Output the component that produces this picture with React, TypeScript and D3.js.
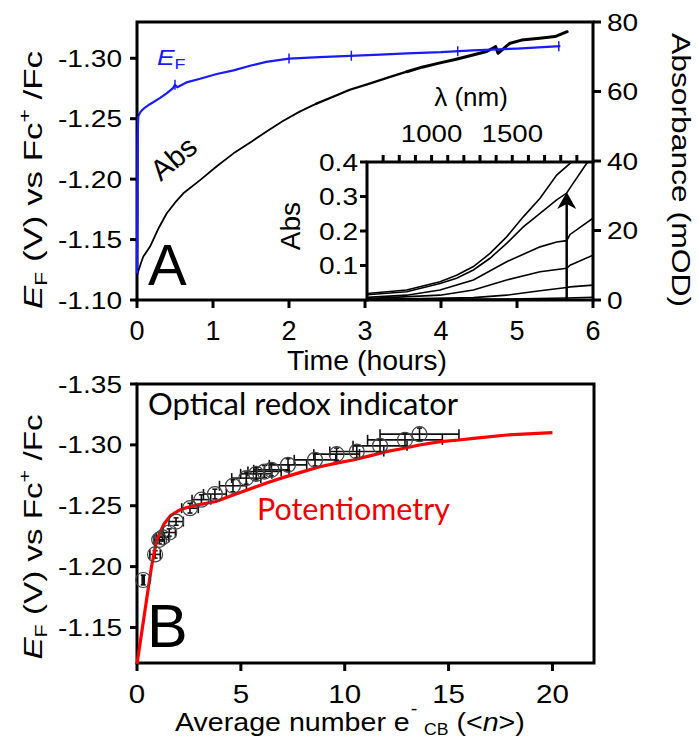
import React from 'react';
import * as d3 from 'd3';

// ---------- Panel A data ----------
const efTime = [0, 0.004, 0.008, 0.015, 0.05, 0.1, 0.17, 0.3, 0.39, 0.47, 0.5, 0.53, 0.65, 0.83, 1.05, 1.27, 1.5, 1.7, 2.0, 2.4, 2.8, 3.2, 3.55, 4.0, 4.42, 5.0, 5.57];
const efVal = [-1.122, -1.19, -1.235, -1.252, -1.256, -1.259, -1.262, -1.267, -1.271, -1.275, -1.278, -1.276, -1.28, -1.283, -1.287, -1.29, -1.294, -1.297, -1.2997, -1.301, -1.302, -1.303, -1.304, -1.305, -1.3066, -1.308, -1.31];
const efMarkTime = [0.5, 2.0, 2.82, 4.22, 5.55];

const absTime = [0, 0.02, 0.05, 0.083, 0.17, 0.28, 0.39, 0.5, 0.61, 0.83, 1.05, 1.27, 1.5, 1.7, 1.92, 2.14, 2.36, 2.58, 2.8, 3.08, 3.3, 3.55, 3.75, 3.96, 4.2, 4.42, 4.6, 4.72, 4.75, 4.9, 5.06, 5.3, 5.5, 5.66];
const absVal = [7, 8.5, 10.5, 12.5, 15.3, 20.5, 24.9, 28, 30.7, 34.5, 38.5, 42.2, 45.5, 48.4, 51.5, 54.2, 56.5, 58.5, 60.5, 62.4, 64, 65.7, 67, 68.1, 69.3, 70.5, 71.5, 72.9, 71, 73.8, 74.8, 75.3, 75.8, 77.2];

const timeTicks = [0, 1, 2, 3, 4, 5, 6];
const efTicksA = [-1.10, -1.15, -1.20, -1.25, -1.30];
const absTicks = [0, 20, 40, 60, 80];

// inset spectra
const spec1L = [600, 846, 1052, 1155, 1259, 1362, 1465, 1568, 1672, 1775, 1858, 1875];
const spec1A = [0.019, 0.029, 0.053, 0.072, 0.097, 0.135, 0.183, 0.241, 0.295, 0.362, 0.396, 0.405];
const spec2L = [600, 846, 1052, 1155, 1259, 1362, 1465, 1568, 1672, 1775, 1837, 1858, 1961, 1980];
const spec2A = [0.015, 0.024, 0.048, 0.063, 0.087, 0.121, 0.164, 0.212, 0.251, 0.29, 0.31, 0.325, 0.396, 0.405];
const spec3L = [600, 846, 1052, 1259, 1465, 1672, 1775, 1837, 1858, 2000];
const spec3A = [0.0077, 0.014, 0.029, 0.058, 0.111, 0.154, 0.168, 0.172, 0.19, 0.237];
const spec4L = [600, 1052, 1259, 1465, 1672, 1837, 1858, 2000];
const spec4A = [0.004, 0.014, 0.029, 0.058, 0.082, 0.092, 0.101, 0.13];
const spec5L = [600, 1259, 1465, 1672, 1837, 1858, 2000];
const spec5A = [0.001, 0.007, 0.014, 0.027, 0.036, 0.038, 0.043];
const spec6L = [600, 1465, 1837, 2000];
const spec6A = [0.002, 0.003, 0.006, 0.008];
const insetAbsTicks = [0.1, 0.2, 0.3, 0.4];
const lambdaTicks = [700, 800, 900, 1000, 1100, 1200, 1300, 1400, 1500, 1600, 1700, 1800, 1900];
const lambdaLabels = [1000, 1500];
const arrowLambda = 1837;
const arrowTop = 0.313;

// ---------- Panel B data ----------
const redN = [0, 0.35, 0.7, 0.95, 1.3, 1.6, 2.0, 2.4, 3.0, 3.8, 4.5, 5.4, 6.2, 7.1, 8.0, 8.8, 9.6, 10.4, 11.2, 12.0, 12.8, 13.6, 14.6, 15.5, 16.2, 17.8, 20.0];
const redE = [-1.12, -1.16, -1.2, -1.222, -1.235, -1.2416, -1.246, -1.2485, -1.251, -1.2535, -1.258, -1.2635, -1.2685, -1.2735, -1.278, -1.282, -1.285, -1.2876, -1.291, -1.2944, -1.297, -1.2999, -1.3026, -1.304, -1.3054, -1.3081, -1.31];

const cN = [0.3, 0.87, 1.07, 1.23, 1.55, 1.88, 2.55, 3.1, 3.75, 4.62, 5.26, 5.74, 6.14, 6.47, 7.27, 8.57, 9.61, 10.58, 11.7, 12.9, 13.6];
const cE = [-1.189, -1.21, -1.222, -1.224, -1.228, -1.237, -1.248, -1.255, -1.2596, -1.2664, -1.2727, -1.2762, -1.2781, -1.2795, -1.2836, -1.2877, -1.2924, -1.2945, -1.2992, -1.3041, -1.3088];
const cXerr = [0.05, 0.25, 0.25, 0.3, 0.3, 0.35, 0.4, 0.45, 0.55, 0.65, 0.7, 0.75, 0.8, 0.85, 0.9, 1.0, 1.1, 1.3, 1.3, 1.8, 1.9];
const cYerr = [0.004, 0.003, 0.003, 0.003, 0.003, 0.003, 0.004, 0.004, 0.004, 0.005, 0.005, 0.005, 0.005, 0.005, 0.005, 0.005, 0.005, 0.005, 0.005, 0.005, 0.005];

const nTicks = [0, 5, 10, 15, 20];
const efTicksB = [-1.15, -1.20, -1.25, -1.30, -1.35];

const FONT = "'Liberation Sans', Arial, sans-serif";
const CAL = "Lato, 'Open Sans', sans-serif";
const BLUE = '#1a1aff';
const RED = '#ee0000';

const fmt2 = (v: number) => v.toFixed(2);

function SText(props: any) {
  const { x, y, sx = 1, anchor = 'start', size, fill = '#000', family = FONT, children, rotate = 0 } = props;
  return (
    <text transform={`translate(${x},${y}) rotate(${rotate}) scale(${sx},1)`} textAnchor={anchor}
      fontSize={size} fontFamily={family} fill={fill}>{children}</text>
  );
}

export default function App() {
  // Panel A scales
  const xA = d3.scaleLinear().domain([0, 6]).range([137, 593]);
  const yA = d3.scaleLinear().domain([-1.10, -1.33]).range([300, 22]);
  const yAbs = d3.scaleLinear().domain([0, 80]).range([300, 22]);
  const xL = d3.scaleLinear().domain([600, 2000]).range([367, 593]);
  const yI = d3.scaleLinear().domain([0, 0.4]).range([300, 162]);
  // Panel B scales
  const xB = d3.scaleLinear().domain([0, 22]).range([137, 594]);
  const yB = d3.scaleLinear().domain([-1.12, -1.35]).range([664, 384]);

  const lineEF = d3.line<number>().x((d, i) => xA(efTime[i])).y((d) => yA(d));
  const lineAbsT = (ts: number[], vs: number[]) =>
    d3.line<number>().x((d, i) => xA(ts[i])).y((d) => yAbs(d))(vs) as string;
  const specLine = (L: number[], A: number[]) =>
    d3.line<number>().x((d, i) => xL(L[i])).y((d) => yI(d))(A) as string;
  const lineRed = d3.line<number>().x((d, i) => xB(redN[i])).y((d) => yB(d));

  const specs = [[spec1L, spec1A], [spec2L, spec2A], [spec3L, spec3A], [spec4L, spec4A], [spec5L, spec5A], [spec6L, spec6A]];

  const efInterp = (t: number) => {
    const i = d3.bisectLeft(efTime, t);
    const i0 = Math.max(0, i - 1);
    const t0 = efTime[i0], t1 = efTime[i];
    const f = t1 === t0 ? 0 : (t - t0) / (t1 - t0);
    return efVal[i0] + f * (efVal[i] - efVal[i0]);
  };

  // later part of the Abs trace is noisier (drawn as a wider band)
  const midIdx = absTime.findIndex((t) => t >= 2.36);
  const lateIdx = absTime.findIndex((t) => t >= 3.55);
  const segs = [
    { t: absTime.slice(0, midIdx + 1), v: absVal.slice(0, midIdx + 1), w: 1.8 },
    { t: absTime.slice(midIdx, lateIdx + 1), v: absVal.slice(midIdx, lateIdx + 1), w: 2.3 },
    { t: absTime.slice(lateIdx), v: absVal.slice(lateIdx), w: 3 },
  ];

  const ax = { stroke: '#000', strokeWidth: 3, fill: 'none', strokeLinecap: 'square' as const };
  const ax0 = { stroke: '#000', strokeWidth: 3 };

  const ax_x = xL(arrowLambda);

  return (
    <svg width={698} height={740} style={{ position: 'absolute', left: 0, top: 0, background: '#fff' }}>
      <defs>
        <clipPath id="insetClip">
          <rect x={367} y={162} width={226} height={138} />
        </clipPath>
        <clipPath id="aClip">
          <rect x={135} y={20} width={460} height={282} />
        </clipPath>
      </defs>

      {/* ===== Panel A ===== */}
      <g clipPath="url(#aClip)">
        {segs.map((s, i) => (
          <path key={i} d={lineAbsT(s.t, s.v)} fill="none" stroke="#000" strokeWidth={s.w} strokeLinejoin="round" strokeLinecap="round" />
        ))}
        <path d={lineEF(efVal) as string} fill="none" stroke={BLUE} strokeWidth={2.2} strokeLinejoin="round" />
        {efMarkTime.map((t, i) => (
          <line key={i} x1={xA(t)} x2={xA(t)} y1={yA(efInterp(t)) - 5} y2={yA(efInterp(t)) + 5} stroke={BLUE} strokeWidth={1.5} />
        ))}
      </g>

      {/* inset */}
      <rect x={367} y={162} width={226} height={138} fill="#fff" />
      <g clipPath="url(#insetClip)">
        {specs.map((s, i) => (
          <path key={i} d={specLine(s[0], s[1])} fill="none" stroke="#000" strokeWidth={1.6} />
        ))}
      </g>
      <line x1={ax_x} x2={ax_x} y1={yI(0)} y2={yI(arrowTop) + 8} stroke="#000" strokeWidth={2.5} />
      <path d={`M${ax_x},${yI(arrowTop)} L${ax_x - 9.5},${yI(arrowTop) + 17} L${ax_x},${yI(arrowTop) + 12} L${ax_x + 9.5},${yI(arrowTop) + 17} Z`} fill="#000" />
      <path d={`M${xL(600)},${yI(0)} V${yI(0.4)} H${xL(2000)}`} {...ax} />
      {insetAbsTicks.map((v) => (
        <g key={v}>
          <line x1={xL(600) - 7} x2={xL(600)} y1={yI(v)} y2={yI(v)} {...ax0} />
          <SText x={xL(600) - 9} y={yI(v) + 8.5} sx={1.17} anchor="end" size={24}>{v.toFixed(1)}</SText>
        </g>
      ))}
      {lambdaTicks.map((v) => (
        <line key={v} x1={xL(v)} x2={xL(v)} y1={yI(0.4)} y2={yI(0.4) - 7} {...ax0} />
      ))}
      {lambdaLabels.map((v) => (
        <SText key={v} x={xL(v)} y={142} sx={1.15} anchor="middle" size={24}>{String(v)}</SText>
      ))}
      <text x={471} y={106} textAnchor="middle" fontSize={26} fontFamily={FONT}>λ (nm)</text>
      <SText x={300} y={226} rotate={-90} anchor="middle" size={28}>Abs</SText>

      {/* frame A */}
      <rect x={137} y={22} width={456} height={278} {...ax} />
      {timeTicks.map((v) => (
        <g key={v}>
          <line x1={xA(v)} x2={xA(v)} y1={300} y2={308} {...ax0} />
          <text x={xA(v)} y={340} textAnchor="middle" fontSize={27} fontFamily={FONT}>{v}</text>
        </g>
      ))}
      {efTicksA.map((v) => (
        <g key={v}>
          <line x1={130} x2={137} y1={yA(v)} y2={yA(v)} {...ax0} />
          <SText x={122} y={yA(v) + 8.5} sx={1.17} anchor="end" size={24}>{fmt2(v)}</SText>
        </g>
      ))}
      {absTicks.map((v) => (
        <g key={v}>
          <line x1={593} x2={601} y1={yAbs(v)} y2={yAbs(v)} {...ax0} />
          <SText x={607} y={yAbs(v) + 8.5} sx={1.17} anchor="start" size={24}>{String(v)}</SText>
        </g>
      ))}
      <path d={lineEF(efVal.slice(0, 4)) as string} fill="none" stroke={BLUE} strokeWidth={2.2} />

      <text x={367} y={370} textAnchor="middle" fontSize={27} fontFamily={FONT} textLength={160} lengthAdjust="spacingAndGlyphs">Time (hours)</text>
      <text transform="translate(672,170) rotate(90)" textAnchor="middle" fontSize={26} fontFamily={FONT}
        textLength={274} lengthAdjust="spacingAndGlyphs">Absorbance (mOD)</text>
      <text transform="translate(42,180) rotate(-90)" textAnchor="middle" fontSize={26} fontFamily={FONT}
        textLength={258} lengthAdjust="spacingAndGlyphs">
        <tspan fontStyle="italic">E</tspan><tspan fontSize={17} dy={5}>F</tspan><tspan dy={-5}> (V) vs Fc</tspan><tspan fontSize={17} dy={-12}>+</tspan><tspan dy={12}> /Fc</tspan>
      </text>

      <text x={148} y={285} fontSize={58} fontFamily={FONT}>A</text>
      <text transform="translate(157,65) scale(1.2,1)" fontSize={22} fontFamily={FONT} fill={BLUE}>
        <tspan fontStyle="italic">E</tspan><tspan fontSize={15} dy={4}>F</tspan>
      </text>
      <text transform="translate(180,166) rotate(-40)" textAnchor="middle" fontSize={29} fontFamily={FONT}>Abs</text>

      {/* ===== Panel B ===== */}
      <rect x={137} y={384} width={457} height={279} {...ax} />
      {nTicks.map((v) => (
        <g key={v}>
          <line x1={xB(v)} x2={xB(v)} y1={663} y2={671} {...ax0} />
          <SText x={xB(v)} y={703} sx={1.18} anchor="middle" size={25}>{String(v)}</SText>
        </g>
      ))}
      {efTicksB.map((v) => (
        <g key={v}>
          <line x1={130} x2={137} y1={yB(v)} y2={yB(v)} {...ax0} />
          <SText x={122} y={yB(v) + 8.5} sx={1.17} anchor="end" size={24}>{fmt2(v)}</SText>
        </g>
      ))}

      {cN.map((n, i) => {
        const cx = xB(n), cy = yB(cE[i]);
        const x1 = xB(n - cXerr[i]), x2 = xB(n + cXerr[i]);
        const y1 = yB(cE[i] - cYerr[i]), y2 = yB(cE[i] + cYerr[i]);
        return (
          <g key={i} stroke="#111" strokeWidth={1.6} fill="none">
            <line x1={x1} x2={x2} y1={cy} y2={cy} />
            <line x1={x1} x2={x1} y1={cy - 5} y2={cy + 5} />
            <line x1={x2} x2={x2} y1={cy - 5} y2={cy + 5} />
            <line x1={cx} x2={cx} y1={y1} y2={y2} />
            <line x1={cx - 2.5} x2={cx + 2.5} y1={y1} y2={y1} />
            <line x1={cx - 2.5} x2={cx + 2.5} y1={y2} y2={y2} />
          </g>
        );
      })}
      <path d={lineRed(redE) as string} fill="none" stroke="#ff0000" strokeWidth={3.2} strokeLinejoin="round" />
      {cN.map((n, i) => (
        <circle key={i} cx={xB(n)} cy={yB(cE[i])} r={7.5} fill="none" stroke="#444" strokeWidth={1.2} />
      ))}

      <text x={148} y={415} fontSize={30} fontFamily={CAL} textLength={310} lengthAdjust="spacingAndGlyphs">Optical redox indicator</text>
      <text x={257} y={520} fontSize={30} fontFamily={CAL} fill={RED} textLength={193} lengthAdjust="spacingAndGlyphs">Potentiometry</text>
      <text x={147} y={647} fontSize={61} fontFamily={FONT}>B</text>

      <text transform="translate(175,731) scale(1.1,1)" fontSize={26} fontFamily={FONT}>
        <tspan>Average number e</tspan><tspan fontSize={18} dy={-16} dx={1}>-</tspan><tspan fontSize={16} dy={20} dx={6}>CB</tspan><tspan dy={-4}> (&lt;</tspan><tspan fontStyle="italic">n</tspan><tspan>&gt;)</tspan>
      </text>
      <text transform="translate(42,537) rotate(-90)" textAnchor="middle" fontSize={26} fontFamily={FONT}
        textLength={245} lengthAdjust="spacingAndGlyphs">
        <tspan fontStyle="italic">E</tspan><tspan fontSize={17} dy={5}>F</tspan><tspan dy={-5}> (V) vs Fc</tspan><tspan fontSize={17} dy={-12}>+</tspan><tspan dy={12}> /Fc</tspan>
      </text>
    </svg>
  );
}
